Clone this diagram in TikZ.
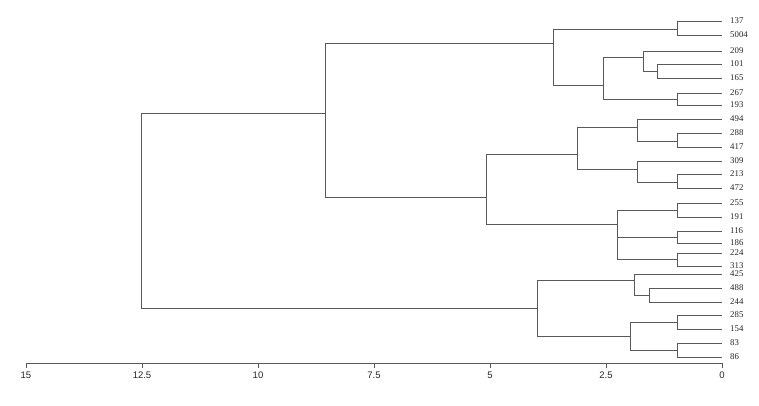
\documentclass[tikz,border=0pt]{standalone}
\usepackage{fontspec}
\setmainfont{Liberation Serif}
\setsansfont{Liberation Sans}
\begin{document}
\begin{tikzpicture}[x=1pt,y=-1pt,
  dl/.style={draw=black!65,line width=0.95pt},
  leaflab/.style={anchor=west,inner sep=0pt,font=\fontsize{8.8}{10}\selectfont,text=black!85},
  axlab/.style={anchor=north,inner sep=0pt,font=\sffamily\fontsize{9.5}{11}\selectfont,text=black!85}]
\useasboundingbox (0,0) rectangle (759,406);
% leaf end coordinates and labels
\foreach \lab/\yy in {137/21,5004/35,209/51,101/64,165/78,267/93,193/105,494/119,288/133,417/147,309/161,213/174,472/188,255/203,191/217,116/231,186/243,224/253,313/266,425/274,488/288,244/302,285/315,154/329,83/343,86/357}{
  \coordinate (l\lab) at (722,\yy);
  \node[leaflab] (t\lab) at (730,\yy) {\lab};
}
% clusters
\draw[dl] (l137) -- (677,21) -- (677,35) -- (l5004);
\draw[dl] (l101) -- (657,64) -- (657,78) -- (l165);
\draw[dl] (l209) -- (643,51) -- (643,71) -- (657,71);
\draw[dl] (l267) -- (677,93) -- (677,105) -- (l193);
\draw[dl] (643,57) -- (603,57) -- (603,99) -- (677,99);
\draw[dl] (677,29) -- (553,29) -- (553,85) -- (603,85);
\draw[dl] (l288) -- (677,133) -- (677,147) -- (l417);
\draw[dl] (l494) -- (637,119) -- (637,141) -- (677,141);
\draw[dl] (l213) -- (677,174) -- (677,188) -- (l472);
\draw[dl] (l309) -- (637,161) -- (637,182) -- (677,182);
\draw[dl] (637,127) -- (577,127) -- (577,169) -- (637,169);
\draw[dl] (l255) -- (677,203) -- (677,217) -- (l191);
\draw[dl] (l116) -- (677,231) -- (677,243) -- (l186);
\draw[dl] (l224) -- (677,253) -- (677,266) -- (l313);
\draw[dl] (677,210) -- (617,210) -- (617,259) -- (677,259);
\draw[dl] (617,237) -- (677,237);
\draw[dl] (577,154) -- (486,154) -- (486,224) -- (617,224);
\draw[dl] (553,43) -- (325,43) -- (325,197) -- (486,197);
\draw[dl] (l488) -- (649,288) -- (649,302) -- (l244);
\draw[dl] (l425) -- (634,274) -- (634,295) -- (649,295);
\draw[dl] (l285) -- (677,315) -- (677,329) -- (l154);
\draw[dl] (l83) -- (677,343) -- (677,357) -- (l86);
\draw[dl] (677,322) -- (630,322) -- (630,350) -- (677,350);
\draw[dl] (634,280) -- (537,280) -- (537,336) -- (630,336);
\draw[dl] (325,113) -- (141,113) -- (141,308) -- (537,308);
% axis
\coordinate (a15) at (26,363);
\coordinate (a0) at (722,363);
\draw[dl] (a15) -- (a0);
\foreach \v/\xx in {15/26,12.5/142,10/258,7.5/374,5/490,2.5/606,0/722}{
  \draw[dl] (\xx,363) -- (\xx,368);
  \node[axlab] (ax\xx) at (\xx,371.5) {\v};
}
\end{tikzpicture}
\end{document}
